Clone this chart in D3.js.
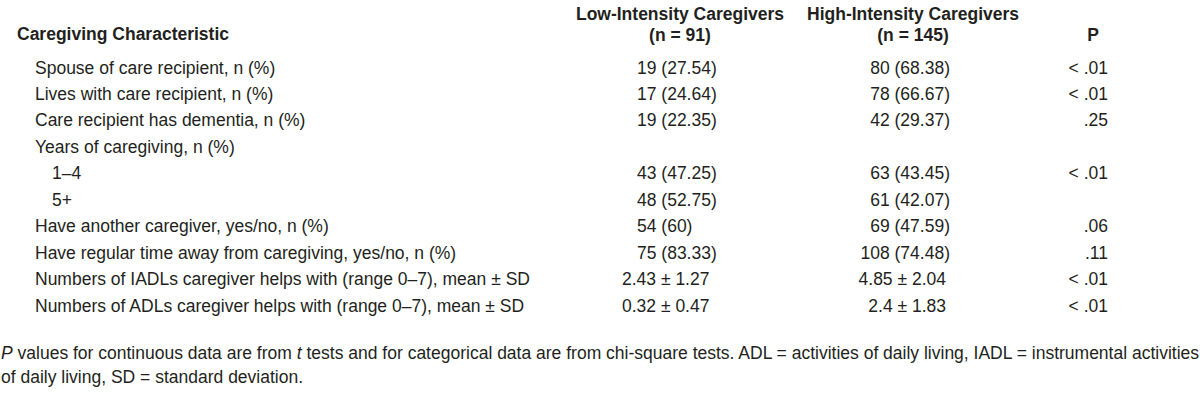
<!DOCTYPE html>
<html>
<head>
<meta charset="utf-8">
<script src="https://cdn.jsdelivr.net/npm/d3@7"></script>
<style>
  body { margin: 0; background: #fff; }
  text { font-family: "Liberation Sans", Arial, Helvetica, sans-serif; font-size: 17.5px; fill: #231f20; }
  .head { font-weight: bold; }
</style>
</head>
<body>
<div id="table"></div>
<script>
// table content
const characteristics = [
    "Spouse of care recipient, n (%)",
    "Lives with care recipient, n (%)",
    "Care recipient has dementia, n (%)",
    "Years of caregiving, n (%)",
    "1\u20134",
    "5+",
    "Have another caregiver, yes/no, n (%)",
    "Have regular time away from caregiving, yes/no, n (%)",
    "Numbers of IADLs caregiver helps with (range 0\u20137), mean \u00b1 SD",
    "Numbers of ADLs caregiver helps with (range 0\u20137), mean \u00b1 SD"
];
const levels = [1, 1, 1, 1, 2, 2, 1, 1, 1, 1];
const lowIntensity = ["19 (27.54)", "17 (24.64)", "19 (22.35)", "", "43 (47.25)", "48 (52.75)", "54 (60)", "75 (83.33)", "2.43 \u00b1 1.27", "0.32 \u00b1 0.47"];
const highIntensity = ["80 (68.38)", "78 (66.67)", "42 (29.37)", "", "63 (43.45)", "61 (42.07)", "69 (47.59)", "108 (74.48)", "4.85 \u00b1 2.04", "2.4 \u00b1 1.83"];
const pValues = ["< .01", "< .01", ".25", "", "< .01", "", ".06", ".11", "< .01", "< .01"];

const firstHeader = "Caregiving Characteristic";
const lowHeader = ["Low-Intensity Caregivers", "(n = 91)"];
const highHeader = ["High-Intensity Caregivers", "(n = 145)"];
const pHeader = "P";

const footnote = [
    [{ t: "P", i: true }, { t: " values for continuous data are from " }, { t: "t", i: true },
     { t: " tests and for categorical data are from chi-square tests. ADL = activities of daily living, IADL = instrumental activities" }],
    [{ t: "of daily living, SD = standard deviation." }]
];

const width = 1200, height = 405;

const svg = d3.select("#table").append("svg")
    .attr("width", width)
    .attr("height", height);

// row baselines
const y = d3.scaleLinear()
    .domain([0, characteristics.length - 1])
    .range([73.5, 311.5]);

const indent = d3.scaleOrdinal().domain([1, 2]).range([35, 52]);

// header
const head = svg.append("g").attr("class", "head");
head.append("text").attr("x", 17).attr("y", 40).text(firstHeader);

head.selectAll(".low-h")
    .data(lowHeader)
    .enter().append("text")
    .attr("x", 680)
    .attr("y", (d, i) => i === 0 ? 20 : 40.5)
    .attr("text-anchor", "middle")
    .text(d => d);

head.selectAll(".high-h")
    .data(highHeader)
    .enter().append("text")
    .attr("x", 913)
    .attr("y", (d, i) => i === 0 ? 20 : 40.5)
    .attr("text-anchor", "middle")
    .text(d => d);

head.append("text").attr("x", 1093).attr("y", 40.5).attr("text-anchor", "middle").text(pHeader);

// body rows
const rows = svg.append("g")
    .selectAll("g")
    .data(characteristics.map((c, i) => ({ c, lvl: levels[i], low: lowIntensity[i], high: highIntensity[i], p: pValues[i] })))
    .enter().append("g")
    .attr("transform", (d, i) => `translate(0,${y(i)})`);

rows.append("text")
    .attr("x", d => indent(d.lvl))
    .text(d => d.c);

// counts are set flush left in the low column, means sit a bit further left
const isMean = v => v.indexOf("\u00b1") >= 0;

rows.append("text")
    .attr("x", d => isMean(d.low) ? 622 : 637)
    .text(d => d.low);

rows.append("text")
    .attr("x", d => isMean(d.high) ? 946 : 950)
    .attr("text-anchor", "end")
    .text(d => d.high);

rows.append("text")
    .attr("x", 1108)
    .attr("text-anchor", "end")
    .text(d => d.p);

// footnote
const note = svg.append("g")
    .selectAll("text")
    .data(footnote)
    .enter().append("text")
    .attr("x", 1)
    .attr("y", (d, i) => 359 + i * 24);

note.selectAll("tspan")
    .data(d => d)
    .enter().append("tspan")
    .attr("font-style", d => d.i ? "italic" : null)
    .text(d => d.t);
</script>
</body>
</html>
